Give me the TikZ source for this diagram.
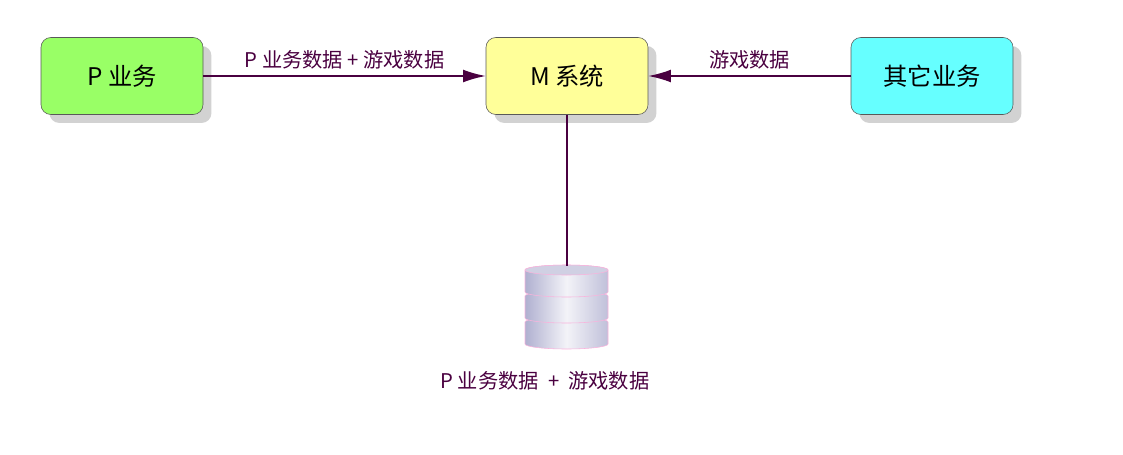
\documentclass[tikz,border=0pt]{standalone}
\usepackage{fontspec}
\setmainfont{Noto Sans CJK SC}
\usetikzlibrary{arrows.meta,shadows}
\definecolor{pgreen}{HTML}{99FF66}
\definecolor{myellow}{HTML}{FFFF99}
\definecolor{ocyan}{HTML}{66FFFF}
\definecolor{edge}{HTML}{4A0040}
\definecolor{dbside}{HTML}{B0B0D0}
\begin{document}
\begin{tikzpicture}
      [x=0.025cm,y=-0.025cm
      ,box/.style={draw=gray!70!black,rounded corners=7pt,minimum width=162*0.025cm,minimum height=77*0.025cm
                  ,font=\LARGE,drop shadow={shadow xshift=6pt,shadow yshift=-6pt,fill=gray!70}}
      ,lin/.style={color=edge,line width=1pt}
      ,arr/.style={lin,-{Latex[length=16pt,width=9pt]}}
      ,lab/.style={font=\Large,text=edge,inner sep=1pt}
      ,disk/.style={draw=white!70!magenta,left color=dbside,right color=dbside!80!white,middle color=white!85!dbside}
      ]
        \useasboundingbox (0,0) rectangle (1123,454);
        \node[box,fill=pgreen] (pbiz) at (122,76) {P 业务};
        \node[box,fill=myellow] (msys) at (567,76) {M 系统};
        \node[box,fill=ocyan] (other) at (932,76) {其它业务};
        % database
        \foreach \t in {322,296,270}{
          \draw[disk] (525,\t) -- (525,\t+22) arc[start angle=180,end angle=0,x radius=41.5,y radius=5]
            -- (608,\t) arc[start angle=0,end angle=-180,x radius=41.5,y radius=5] -- cycle;
        }
        \draw[white!70!magenta,fill=dbside!60!white] (566.5,270) ellipse[x radius=41.5,y radius=5];
        \coordinate (db) at (567,266);
        \draw[arr] (pbiz) -- node[lab,above=3pt] {P 业务数据 + 游戏数据} (msys);
        \draw[arr] (other) -- node[lab,above=3pt] {游戏数据} (msys);
        \draw[lin] (msys) -- (db);
        \node[lab] (dblabel) at (545,381) {P 业务数据 \ + \ 游戏数据};
\end{tikzpicture}
\end{document}
